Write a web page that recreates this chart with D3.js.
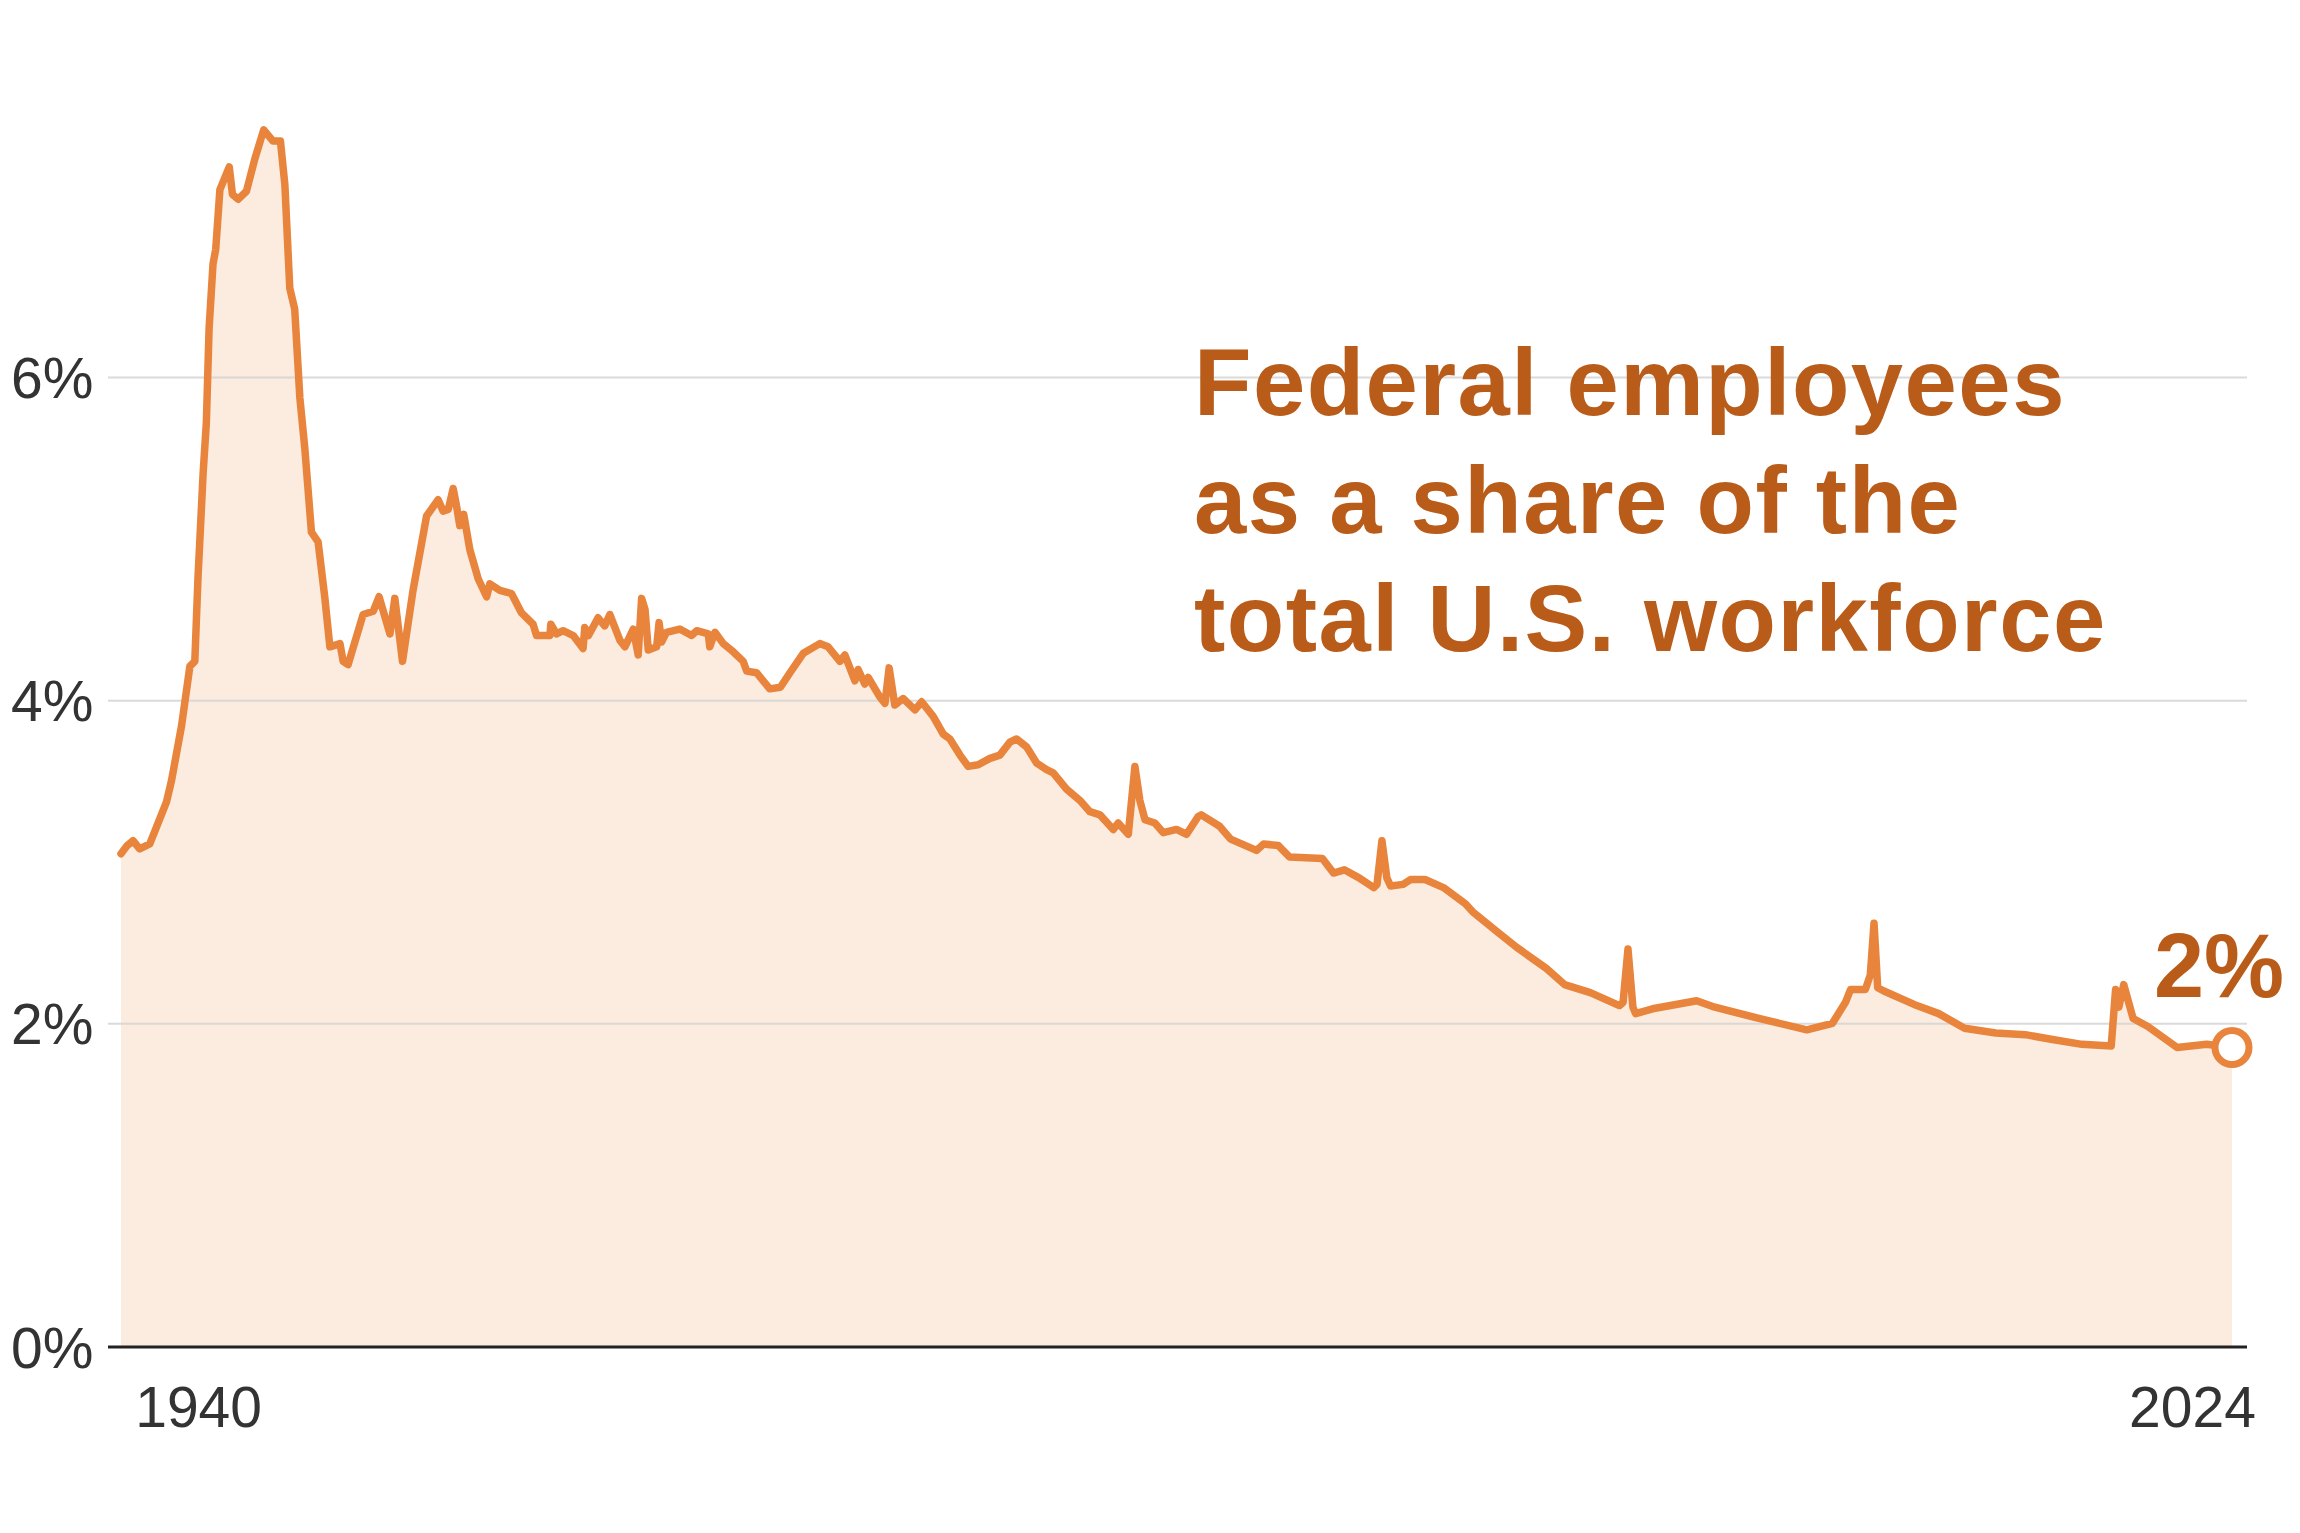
<!DOCTYPE html>
<html>
<head>
<meta charset="utf-8">
<script src="https://cdn.jsdelivr.net/npm/d3@7"></script>
<style>
  html, body { margin: 0; padding: 0; background: #fff; }
  svg { display: block; }
</style>
</head>
<body>
<svg id="chart"></svg>
<script>
const width = 2300;
const height = 1533;

// share of total nonfarm jobs held by federal employees
const years = [
  1939.2, 1939.45, 1939.69, 1939.96, 1940.37, 1940.71, 1941.05, 1941.25, 1941.66, 1942.0,
  1942.2, 1942.33, 1942.54, 1942.67, 1942.78, 1942.94, 1943.05, 1943.22, 1943.6, 1943.73,
  1943.96, 1944.3, 1944.64, 1945.0, 1945.38, 1945.68, 1945.86, 1946.06, 1946.26, 1946.47,
  1946.67, 1946.94, 1947.21, 1947.48, 1947.69, 1948.1, 1948.23, 1948.43, 1949.04, 1949.45,
  1949.69, 1950.13, 1950.33, 1950.64, 1951.07, 1951.62, 1952.09, 1952.29, 1952.5, 1952.7,
  1952.84, 1952.97, 1953.13, 1953.38, 1953.72, 1954.06, 1954.19, 1954.6, 1955.07, 1955.48,
  1955.95, 1956.09, 1956.63, 1956.67, 1956.9, 1957.17, 1957.58, 1957.98, 1958.05, 1958.2,
  1958.59, 1958.86, 1959.07, 1959.48, 1959.68, 1960.02, 1960.22, 1960.36, 1960.5, 1960.63,
  1960.97, 1961.07, 1961.17, 1961.37, 1961.91, 1962.39, 1962.6, 1963.07, 1963.13, 1963.34,
  1963.68, 1964.08, 1964.49, 1964.63, 1965.03, 1965.57, 1966.0, 1966.39, 1966.93, 1967.6,
  1967.94, 1968.42, 1968.62, 1969.03, 1969.16, 1969.43, 1969.57, 1970.04, 1970.25, 1970.42,
  1970.65, 1970.99, 1971.47, 1971.74, 1972.21, 1972.62, 1972.89, 1973.3, 1973.63, 1974.04,
  1974.52, 1974.92, 1975.33, 1975.6, 1976.01, 1976.42, 1976.82, 1977.09, 1977.63, 1978.17,
  1978.58, 1978.99, 1979.53, 1979.73, 1980.14, 1980.41, 1980.61, 1980.82, 1981.22, 1981.56,
  1982.1, 1982.51, 1982.98, 1983.11, 1983.85, 1984.3, 1985.35, 1985.64, 1986.24, 1986.69,
  1988.03, 1988.48, 1988.92, 1989.52, 1990.12, 1990.25, 1990.45, 1990.65, 1990.8, 1991.31,
  1991.61, 1992.2, 1992.95, 1993.84, 1994.14, 1995.19, 1995.93, 1997.13, 1997.87, 1998.92,
  2000.1, 2000.25, 2000.45, 2000.65, 2000.76, 2001.45, 2003.24, 2003.98, 2005.77, 2007.72,
  2008.76, 2009.29, 2009.5, 2010.1, 2010.3, 2010.45, 2010.6, 2010.85, 2012.19, 2013.08,
  2014.13, 2015.4, 2016.6, 2017.7, 2018.9, 2020.09, 2020.27, 2020.4, 2020.6, 2020.98,
  2021.58, 2022.77, 2023.97, 2025.0
];
const shares = [
  3.05, 3.10, 3.13, 3.08, 3.11, 3.24, 3.37, 3.50, 3.84, 4.21,
  4.24, 4.76, 5.41, 5.72, 6.30, 6.70, 6.79, 7.16, 7.30, 7.13,
  7.10, 7.15, 7.35, 7.53, 7.46, 7.46, 7.19, 6.55, 6.42, 5.87,
  5.56, 5.04, 4.98, 4.64, 4.33, 4.35, 4.24, 4.22, 4.53, 4.55,
  4.64, 4.41, 4.63, 4.24, 4.68, 5.14, 5.24, 5.17, 5.18, 5.31,
  5.20, 5.08, 5.15, 4.93, 4.75, 4.64, 4.72, 4.68, 4.66, 4.54,
  4.47, 4.40, 4.40, 4.47, 4.41, 4.43, 4.40, 4.32, 4.45, 4.40,
  4.51, 4.46, 4.53, 4.37, 4.33, 4.44, 4.28, 4.63, 4.56, 4.31,
  4.33, 4.48, 4.36, 4.42, 4.44, 4.40, 4.43, 4.41, 4.33, 4.42,
  4.35, 4.30, 4.24, 4.18, 4.17, 4.07, 4.08, 4.17, 4.29, 4.35,
  4.33, 4.24, 4.28, 4.12, 4.19, 4.10, 4.14, 4.02, 3.98, 4.20,
  3.97, 4.01, 3.94, 3.99, 3.90, 3.79, 3.76, 3.66, 3.59, 3.60,
  3.64, 3.66, 3.74, 3.76, 3.71, 3.61, 3.57, 3.55, 3.45, 3.38,
  3.31, 3.29, 3.20, 3.24, 3.17, 3.59, 3.38, 3.26, 3.24, 3.18,
  3.20, 3.17, 3.28, 3.29, 3.22, 3.14, 3.07, 3.11, 3.10, 3.03,
  3.02, 2.93, 2.95, 2.90, 2.84, 2.86, 3.13, 2.90, 2.85, 2.86,
  2.89, 2.89, 2.84, 2.74, 2.69, 2.56, 2.47, 2.34, 2.24, 2.19,
  2.11, 2.13, 2.46, 2.10, 2.06, 2.09, 2.14, 2.10, 2.03, 1.96,
  2.00, 2.13, 2.21, 2.21, 2.30, 2.62, 2.22, 2.20, 2.11, 2.06,
  1.97, 1.94, 1.93, 1.90, 1.87, 1.86, 2.21, 2.10, 2.24, 2.03,
  1.98, 1.85, 1.87, 1.85
];

const yTicks = [0, 2, 4, 6];
const xTickLabels = [1940, 2024];
const titleLines = ["Federal employees", "as a share of the", "total U.S. workforce"];
const endLabel = "2%";

const lineColor = "#e8843c";
const darkOrange = "#b95b19";

const data = years.map((yr, i) => ({ year: yr, value: shares[i] }));

const svg = d3.select("#chart")
  .attr("width", width)
  .attr("height", height)
  .attr("viewBox", `0 0 ${width} ${height}`);

svg.append("rect").attr("width", width).attr("height", height).attr("fill", "#fff");

const x = d3.scaleLinear().domain([1939.2, 2025.0]).range([121, 2232]);
const y = d3.scaleLinear().domain([0, 6]).range([1346.5, 377]);

const gridLeft = 108;
const gridRight = 2247;

// area under the line
const area = d3.area()
  .x(d => x(d.year))
  .y0(y(0))
  .y1(d => y(d.value));

svg.append("path")
  .datum(data)
  .attr("fill", "#fcebdf")
  .attr("d", area);

// gridlines + labels
const yAxis = d3.axisLeft(y)
  .tickValues(yTicks)
  .tickFormat(d => d + "%")
  .tickSize(-(gridRight - gridLeft));

const gy = svg.append("g")
  .attr("transform", `translate(${gridLeft},0)`)
  .call(yAxis);

gy.select(".domain").remove();
gy.selectAll(".tick line")
  .attr("stroke", "#d4d4d4")
  .attr("stroke-opacity", 0.85)
  .attr("stroke-width", 2);
gy.selectAll(".tick")
  .filter(d => d === 0)
  .select("line")
  .attr("stroke", "#222")
  .attr("stroke-opacity", 1)
  .attr("stroke-width", 3);
gy.selectAll(".tick text")
  .attr("x", -(gridLeft - 11))
  .attr("dy", "0.36em")
  .attr("text-anchor", "start")
  .attr("fill", "#333")
  .style("font-family", "'Liberation Sans', Arial, sans-serif")
  .style("font-size", "57px");

// year labels at both ends
const xAxis = d3.axisBottom(x)
  .tickValues(xTickLabels)
  .tickFormat(d3.format("d"))
  .tickSize(0)
  .tickPadding(0);

const gx = svg.append("g")
  .attr("transform", `translate(0,${y(0)})`)
  .call(xAxis);

gx.select(".domain").remove();
gx.selectAll(".tick text")
  .attr("y", 80)
  .attr("dy", 0)
  .attr("fill", "#333")
  .style("font-family", "'Liberation Sans', Arial, sans-serif")
  .style("font-size", "57px")
  .attr("text-anchor", (d, i) => i === 0 ? "start" : "end")
  .attr("dx", (d, i) => i === 0 ? -6 : 48);

// the line itself
const line = d3.line()
  .x(d => x(d.year))
  .y(d => y(d.value));

svg.append("path")
  .datum(data)
  .attr("fill", "none")
  .attr("stroke", lineColor)
  .attr("stroke-width", 7.5)
  .attr("stroke-linejoin", "round")
  .attr("stroke-linecap", "round")
  .attr("d", line);

// end marker
const last = data[data.length - 1];
svg.append("circle")
  .attr("cx", x(last.year))
  .attr("cy", y(last.value))
  .attr("r", 17)
  .attr("fill", "#fff")
  .attr("stroke", lineColor)
  .attr("stroke-width", 7);

svg.append("text")
  .attr("x", 2284)
  .attr("y", 997)
  .attr("text-anchor", "end")
  .attr("fill", darkOrange)
  .style("font-family", "'Liberation Sans', Arial, sans-serif")
  .style("font-weight", "bold")
  .style("font-size", "90px")
  .text(endLabel);

// title
svg.append("text")
  .attr("x", 1194)
  .attr("y", 415)
  .attr("fill", darkOrange)
  .style("font-family", "'Liberation Sans', Arial, sans-serif")
  .style("font-weight", "bold")
  .style("font-size", "94px")
  .style("letter-spacing", "1.5px")
  .selectAll("tspan")
  .data(titleLines)
  .join("tspan")
  .attr("x", 1194)
  .attr("dy", (d, i) => i === 0 ? 0 : 118)
  .text(d => d);
</script>
</body>
</html>
